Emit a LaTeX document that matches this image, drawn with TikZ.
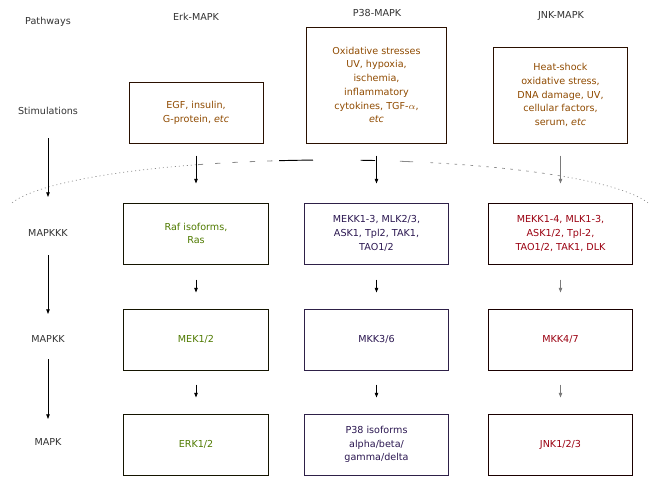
\documentclass[tikz,border=0pt]{standalone}
\usepackage{fontspec}
\setmainfont{DejaVu Sans}
\usetikzlibrary{arrows.meta}
\definecolor{stimtxt}{HTML}{8F4A00}
\definecolor{stimbrd}{HTML}{2A1000}
\definecolor{erktxt}{HTML}{4F7A00}
\definecolor{erkbrd}{HTML}{141400}
\definecolor{ptxt}{HTML}{2A1650}
\definecolor{pbrd}{HTML}{2E2048}
\definecolor{jtxt}{HTML}{9A0010}
\definecolor{jbrd}{HTML}{1A0000}
\definecolor{lblc}{HTML}{333333}
\definecolor{arcc}{HTML}{8A8A8A}
\definecolor{jarr}{HTML}{7A7A7A}
\begin{document}
\begin{tikzpicture}[x=0.75pt,y=-0.75pt,
  every node/.style={font=\fontsize{7.2pt}{10.3pt}\selectfont, align=center, inner sep=0pt},
  lowbox/.style={draw, line width=0.75pt, minimum width=108.4pt, minimum height=45.75pt},
  stimbox/.style={draw=stimbrd, line width=0.75pt, text=stimtxt},
  lbl/.style={text=lblc},
  arr/.style={-{Triangle[length=3.5pt,width=2.6pt]}, line width=0.6pt},
  toparr/.style={arr, shorten <=9pt, shorten >=14.25pt},
  midarr/.style={arr, shorten <=11.25pt, shorten >=12pt},
  botarr/.style={arr, shorten <=10.5pt, shorten >=12pt},
]
\useasboundingbox (0,0) rectangle (656,486);

% row labels and headers
\node[lbl] (pw) at (48,22) {Pathways};
\node[lbl] (h1) at (196,17) {Erk-MAPK};
\node[lbl] (h2) at (377,13) {P38-MAPK};
\node[lbl] (h3) at (561,16) {JNK-MAPK};
\node[lbl] (st) at (48,111) {Stimulations};
\node[lbl] (l1) at (48,233) {MAPKKK};
\node[lbl] (l2) at (48,339) {MAPKK};
\node[lbl] (l3) at (48,442) {MAPK};

% stimulation boxes
\node[stimbox, minimum width=100.5pt, minimum height=45.75pt] (s1) at (196,112.5)
  {EGF, insulin,\\G-protein, \textit{etc}};
\node[stimbox, minimum width=105pt, minimum height=87pt] (s2) at (376.5,85)
  {Oxidative stresses\\UV, hypoxia,\\ischemia,\\inflammatory\\cytokines, TGF-$\alpha$,\\\textit{etc}};
\node[stimbox, minimum width=100.5pt, minimum height=72pt] (s3) at (560.5,95)
  {Heat-shock\\oxidative stress,\\DNA damage, UV,\\cellular factors,\\serum, \textit{etc}};

% MAPKKK
\node[lowbox, draw=erkbrd, text=erktxt] (e1) at (196,233.5) {Raf isoforms,\\Ras};
\node[lowbox, draw=pbrd, text=ptxt] (p1) at (376.5,233.5) {MEKK1-3, MLK2/3,\\ASK1, Tpl2, TAK1,\\TAO1/2};
\node[lowbox, draw=jbrd, text=jtxt] (j1) at (560.5,233.5) {MEKK1-4, MLK1-3,\\ASK1/2, Tpl-2,\\TAO1/2, TAK1, DLK};
% MAPKK
\node[lowbox, draw=erkbrd, text=erktxt] (e2) at (196,339.5) {MEK1/2};
\node[lowbox, draw=pbrd, text=ptxt] (p2) at (376.5,339.5) {MKK3/6};
\node[lowbox, draw=jbrd, text=jtxt] (j2) at (560.5,339.5) {MKK4/7};
% MAPK
\node[lowbox, draw=erkbrd, text=erktxt] (e3) at (196,444.5) {ERK1/2};
\node[lowbox, draw=pbrd, text=ptxt] (p3) at (376.5,444.5) {P38 isoforms\\alpha/beta/\\gamma/delta};
\node[lowbox, draw=jbrd, text=jtxt] (j3) at (560.5,444.5) {JNK1/2/3};

% membrane-like arc
\draw[arcc, line width=0.5pt, dash pattern=on 0.8pt off 2.2pt]
  plot[domain=168:114, samples=40, variable=\t] ({330+325*cos(\t)},{214-54*sin(\t)});
\draw[arcc, line width=0.6pt, dash pattern=on 4pt off 9pt]
  plot[domain=114:99, samples=20, variable=\t] ({330+325*cos(\t)},{214-54*sin(\t)});
\draw[black, line width=0.7pt]
  plot[domain=99:93, samples=8, variable=\t] ({330+325*cos(\t)},{214-54*sin(\t)});
\draw[black, line width=0.7pt]
  plot[domain=84.6:82, samples=5, variable=\t] ({330+325*cos(\t)},{214-54*sin(\t)});
\draw[arcc, line width=0.6pt]
  plot[domain=77.6:75.2, samples=5, variable=\t] ({330+325*cos(\t)},{214-54*sin(\t)});
\draw[arcc, line width=0.5pt, dash pattern=on 2pt off 4pt]
  plot[domain=72:45, samples=30, variable=\t] ({330+325*cos(\t)},{214-54*sin(\t)});
\draw[arcc, line width=0.5pt, dash pattern=on 0.8pt off 2.2pt]
  plot[domain=45:12, samples=40, variable=\t] ({330+325*cos(\t)},{214-54*sin(\t)});

% left-hand arrows
\draw[arr, shorten <=20.25pt, shorten >=27pt] (st.center) -- (l1.center);
\draw[arr, shorten <=16.5pt, shorten >=18.75pt] (l1.center) -- (l2.center);
\draw[arr, shorten <=15pt, shorten >=17.25pt] (l2.center) -- (l3.center);

% column arrows
\draw[toparr] (s1.south) -- (e1.north);
\draw[toparr] (s2.south) -- (p1.north);
\draw[toparr, jarr] (s3.south) -- (j1.north);
\draw[midarr] (e1.south) -- (e2.north);
\draw[midarr] (p1.south) -- (p2.north);
\draw[midarr, jarr] (j1.south) -- (j2.north);
\draw[botarr] (e2.south) -- (e3.north);
\draw[botarr] (p2.south) -- (p3.north);
\draw[botarr, jarr] (j2.south) -- (j3.north);
\end{tikzpicture}
\end{document}
